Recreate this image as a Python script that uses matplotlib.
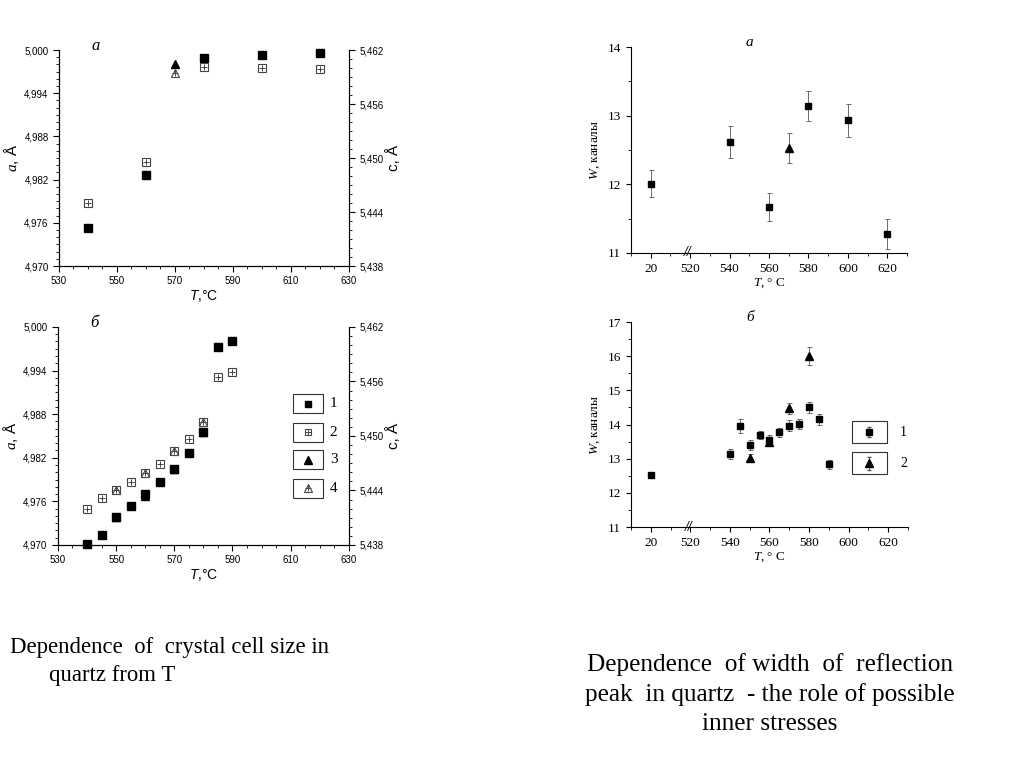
import matplotlib
matplotlib.use("Agg")
import matplotlib.pyplot as plt
from matplotlib.ticker import FixedLocator, MultipleLocator, FuncFormatter
from matplotlib.patches import Rectangle

plt.rcParams['mathtext.fontset'] = 'custom'
plt.rcParams['mathtext.it'] = 'Liberation Serif:italic'
plt.rcParams['mathtext.sf'] = 'Liberation Sans:italic'
plt.rcParams['font.family'] = 'Liberation Sans'

# --- panel "а" (left): lattice parameters ---
ta_1 = [540, 560, 580, 600, 620]
a_1 = [4.9753, 4.9826, 4.9989, 4.9993, 4.9996]
ta_2 = [540, 560, 580, 600, 620]
c_2 = [5.4450, 5.4496, 5.4601, 5.4600, 5.4599]
ta_3 = [570]
a_3 = [4.9981]
ta_4 = [570]
c_4 = [5.4595]

# --- panel "б" (left) ---
tb_1 = [540, 545, 550, 555, 560, 565, 570, 575, 580, 585, 590]
b_1 = [4.9702, 4.9714, 4.9739, 4.9753, 4.9770, 4.9786, 4.9805, 4.9827, 4.9855, 4.9972, 4.9980]
tb_2 = [540, 545, 550, 555, 560, 565, 570, 575, 580, 585, 590]
cb_2 = [5.4420, 5.4432, 5.4441, 5.4449, 5.4459, 5.4469, 5.4483, 5.4497, 5.4515, 5.4565, 5.4570]
tb_3 = [550, 560, 570, 580]
b_3 = [4.9738, 4.9768, 4.9805, 4.9856]
tb_4 = [550, 560, 570, 580]
cb_4 = [5.4441, 5.4459, 5.4483, 5.4515]

# --- right panels: peak width W ---
wa_t1 = [20, 540, 560, 580, 600, 620]
wa_w1 = [12.01, 12.62, 11.67, 13.14, 12.93, 11.28]
wa_e1 = [0.20, 0.23, 0.21, 0.22, 0.24, 0.22]
wa_t2 = [570]
wa_w2 = [12.53]
wa_e2 = [0.22]

wb_t1 = [20, 540, 545, 550, 555, 560, 565, 570, 575, 580, 585, 590]
wb_w1 = [12.52, 13.14, 13.96, 13.40, 13.70, 13.54, 13.77, 13.97, 14.02, 14.50, 14.15, 12.84]
wb_e1 = [0.07, 0.15, 0.21, 0.15, 0.12, 0.15, 0.14, 0.16, 0.14, 0.17, 0.15, 0.13]
wb_t2 = [550, 560, 570, 580]
wb_w2 = [13.02, 13.50, 14.47, 16.00]
wb_e2 = [0.12, 0.12, 0.15, 0.27]

t_ticks = [530, 550, 570, 590, 610, 630]
a_ticks = [4.970, 4.976, 4.982, 4.988, 4.994, 5.000]
c_ticks = [5.438, 5.444, 5.450, 5.456, 5.462]

comma = FuncFormatter(lambda v, p: f'{v:.3f}'.replace('.', ','))


def brk(ts):
    # broken axis: room temperature drawn just left of 520
    return [t + 480 if t < 100 else t for t in ts]


def crossed(ax, x, y, ms, marker='s', trans=None):
    kw = {} if trans is None else {'transform': trans}
    ax.plot(x, y, ls='none', marker=marker, ms=ms, mfc='white', mec='#444444', mew=0.8, clip_on=False, **kw)
    ax.plot(x, y, ls='none', marker='+', ms=ms * 0.75, mec='#444444', mew=0.7, clip_on=False, **kw)


def left_panel(rect, letter, s1, s2, s3, s4, legend=False):
    ax = fig.add_axes(rect)
    ax2 = ax.twinx()
    ax.plot(s1[0], s1[1], ls='none', marker='s', ms=5.5, color='black', clip_on=False, zorder=3)
    ax.plot(s3[0], s3[1], ls='none', marker='^', ms=6, color='black', clip_on=False, zorder=3)
    crossed(ax2, s2[0], s2[1], 5.5)
    crossed(ax2, s4[0], s4[1], 5.5, marker='^')
    ax.set_xlim(530, 630)
    ax.set_ylim(4.970, 5.000)
    ax2.set_ylim(5.438, 5.462)
    ax.xaxis.set_major_locator(FixedLocator(t_ticks))
    ax.xaxis.set_minor_locator(MultipleLocator(5))
    ax.yaxis.set_major_locator(FixedLocator(a_ticks))
    ax.yaxis.set_minor_locator(MultipleLocator(0.001))
    ax2.yaxis.set_major_locator(FixedLocator(c_ticks))
    ax2.yaxis.set_minor_locator(MultipleLocator(0.001))
    ax.yaxis.set_major_formatter(comma)
    ax2.yaxis.set_major_formatter(comma)
    for a in (ax, ax2):
        a.spines['top'].set_visible(False)
        a.tick_params(which='major', length=4, width=0.8, labelsize=7)
        a.tick_params(which='minor', length=2, width=0.6)
    ax.set_xlabel(r'$\mathsf{T}$,°C', fontsize=10, labelpad=1)
    ax.set_ylabel(r'$\mathit{a}$, Å', fontsize=11, labelpad=2)
    ax2.set_ylabel('c, Å', fontsize=11, labelpad=2)
    ax.text(0.125, 1.02, letter, transform=ax.transAxes, fontsize=12,
            family='Liberation Serif', style='italic', ha='center', va='center')
    if legend:
        ys = [0.647, 0.518, 0.390, 0.261]
        for i, y in enumerate(ys):
            ax.add_patch(Rectangle((0.808, y - 0.0435), 0.103, 0.087, transform=ax.transAxes,
                                   fill=False, ec='#333333', lw=0.8))
            ax.text(0.935, y, str(i + 1), transform=ax.transAxes, fontsize=11,
                    family='Liberation Serif', va='center', ha='left')
        ax.plot([0.86], [ys[0]], transform=ax.transAxes, marker='s', ms=5, color='black')
        crossed(ax, [0.86], [ys[1]], 5, trans=ax.transAxes)
        ax.plot([0.86], [ys[2]], transform=ax.transAxes, marker='^', ms=6, color='black')
        crossed(ax, [0.86], [ys[3]], 5.5, marker='^', trans=ax.transAxes)
    return ax


def right_panel(rect, letter, ylim, s1, s2, legend=False):
    ax = fig.add_axes(rect)
    ax.errorbar(brk(s1[0]), s1[1], yerr=s1[2], fmt='s', ms=5, color='black',
                ecolor='#555555', elinewidth=0.6, capsize=1.8, capthick=0.6)
    ax.errorbar(brk(s2[0]), s2[1], yerr=s2[2], fmt='^', ms=5.5, color='black',
                ecolor='#555555', elinewidth=0.6, capsize=1.8, capthick=0.6)
    ax.set_xlim(490, 630)
    ax.set_ylim(*ylim)
    ax.set_xticks([500, 520, 540, 560, 580, 600, 620])
    ax.set_xticklabels(['20', '520', '540', '560', '580', '600', '620'])
    ax.xaxis.set_minor_locator(MultipleLocator(10))
    ax.yaxis.set_major_locator(MultipleLocator(1))
    ax.yaxis.set_minor_locator(MultipleLocator(0.5))
    ax.spines['top'].set_visible(False)
    ax.spines['right'].set_visible(False)
    ax.tick_params(which='major', length=3.5, width=0.8, labelsize=9.5)
    ax.tick_params(which='minor', length=2, width=0.6)
    for lab in ax.get_xticklabels() + ax.get_yticklabels():
        lab.set_family('Liberation Serif')
    ax.text(519, ylim[0], '//', fontsize=10, family='Liberation Serif', style='italic',
            ha='center', va='center', fontweight='bold')
    ax.set_xlabel(r'$\mathit{T}$, ° C', fontsize=9.5, family='Liberation Serif', labelpad=1)
    ax.set_ylabel(r'$\mathit{W}$, каналы', fontsize=9.5, family='Liberation Serif', labelpad=4)
    ax.text(0.43, 1.02, letter, transform=ax.transAxes, fontsize=11,
            family='Liberation Serif', style='italic', ha='center', va='center')
    if legend:
        for i, y in enumerate([0.463, 0.310]):
            ax.add_patch(Rectangle((0.798, y - 0.0535), 0.126, 0.107, transform=ax.transAxes,
                                   fill=False, ec='#333333', lw=0.8))
            ax.text(0.971, y, str(i + 1), transform=ax.transAxes, fontsize=10,
                    family='Liberation Serif', va='center', ha='left')
        ax.errorbar([0.861], [0.463], yerr=[0.025], fmt='s', ms=4.5, color='black',
                    ecolor='#555555', elinewidth=0.6, capsize=1.5, transform=ax.transAxes)
        ax.errorbar([0.861], [0.310], yerr=[0.03], fmt='^', ms=5.5, color='black',
                    ecolor='#555555', elinewidth=0.6, capsize=1.5, transform=ax.transAxes)
    return ax


fig = plt.figure(figsize=(10.24, 7.68), dpi=100)

left_panel([0.0576, 0.6536, 0.2832, 0.28125], 'а',
           (ta_1, a_1), (ta_2, c_2), (ta_3, a_3), (ta_4, c_4))
left_panel([0.0566, 0.2904, 0.284, 0.2839], 'б',
           (tb_1, b_1), (tb_2, cb_2), (tb_3, b_3), (tb_4, cb_4), legend=True)
right_panel([0.6162, 0.6706, 0.2695, 0.2682], 'а', (11, 14),
            (wa_t1, wa_w1, wa_e1), (wa_t2, wa_w2, wa_e2))
right_panel([0.6162, 0.3138, 0.2705, 0.2669], 'б', (11, 17),
            (wb_t1, wb_w1, wb_e1), (wb_t2, wb_w2, wb_e2), legend=True)

fig.text(10 / 1024, 1 - 647 / 768, 'Dependence  of  crystal cell size in',
         family='Liberation Serif', fontsize=16.4, va='center', ha='left')
fig.text(49 / 1024, 1 - 675 / 768, 'quartz from T',
         family='Liberation Serif', fontsize=16.4, va='center', ha='left')
fig.text(770 / 1024, 1 - 694 / 768,
         'Dependence  of width  of  reflection\npeak  in quartz  - the role of possible\ninner stresses',
         family='Liberation Serif', fontsize=18.2, va='center', ha='center', linespacing=1.4)

fig.savefig('out.png', dpi=100)
